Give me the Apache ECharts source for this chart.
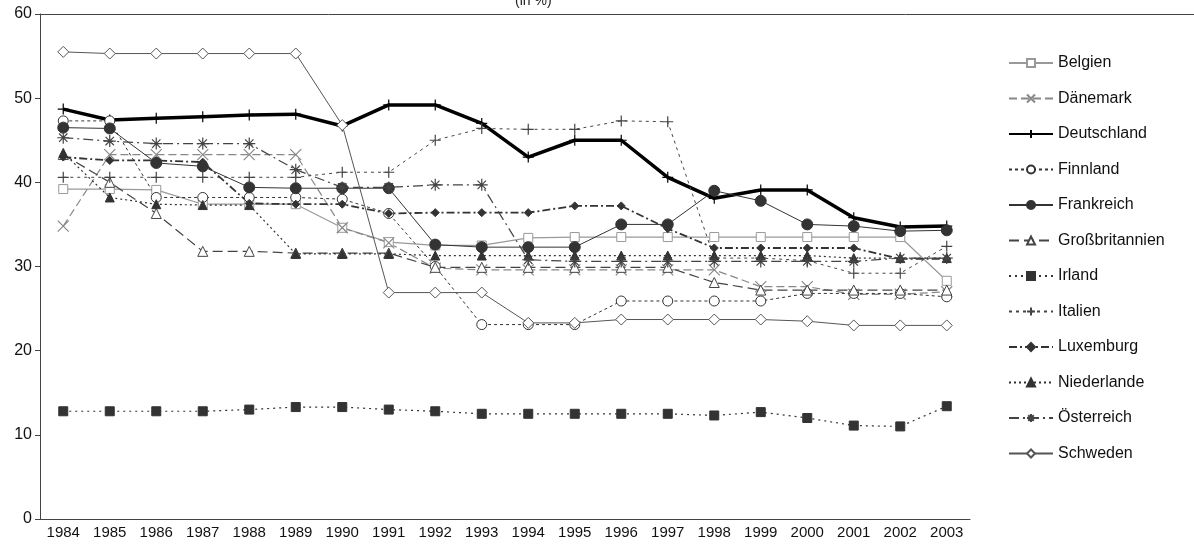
<!DOCTYPE html>
<html><head><meta charset="utf-8">
<script src="https://cdn.jsdelivr.net/npm/echarts@6/dist/echarts.min.js"></script>
<style>html,body{margin:0;background:#fff}#c{width:1194px;height:547px}</style>
</head><body><div id="c"></div>
<script>
const years = ['1984','1985','1986','1987','1988','1989','1990','1991','1992','1993','1994','1995','1996','1997','1998','1999','2000','2001','2002','2003'];
const belgien = [39.2,39.2,39.1,37.4,37.4,37.4,34.6,32.9,32.5,32.5,33.4,33.5,33.5,33.5,33.5,33.5,33.5,33.5,33.5,28.3];
const daenemark = [34.8,43.3,43.3,43.3,43.3,43.3,34.6,32.8,29.8,29.6,29.6,29.6,29.6,29.6,29.6,27.6,27.6,26.7,26.7,27.0];
const deutschland = [48.7,47.4,47.6,47.8,48.0,48.1,46.7,49.2,49.2,47.0,43.0,45.0,45.0,40.6,38.1,39.1,39.1,35.8,34.7,34.8];
const finnland = [47.3,47.3,38.2,38.2,38.2,38.2,38.0,36.3,30.0,23.1,23.1,23.1,25.9,25.9,25.9,25.9,26.8,26.8,26.8,26.4];
const frankreich = [46.5,46.4,42.3,41.9,39.4,39.3,39.3,39.3,32.6,32.3,32.3,32.3,35.0,35.0,39.0,37.8,35.0,34.8,34.2,34.3];
const grossbritannien = [43.3,40.0,36.3,31.8,31.8,31.6,31.6,31.6,29.9,29.9,29.9,29.9,29.9,29.9,28.1,27.2,27.2,27.2,27.2,27.2];
const irland = [12.8,12.8,12.8,12.8,13.0,13.3,13.3,13.0,12.8,12.5,12.5,12.5,12.5,12.5,12.3,12.7,12.0,11.1,11.0,13.4];
const italien = [40.6,40.6,40.6,40.6,40.6,40.6,41.2,41.2,45.0,46.4,46.3,46.3,47.3,47.2,31.0,31.0,30.7,29.2,29.2,32.4];
const luxemburg = [43.0,42.6,42.6,42.4,37.5,37.4,37.4,36.3,36.4,36.4,36.4,37.2,37.2,34.5,32.2,32.2,32.2,32.2,30.9,30.9];
const niederlande = [43.5,38.2,37.4,37.3,37.3,31.5,31.5,31.5,31.3,31.3,31.3,31.3,31.3,31.3,31.3,31.3,31.3,31.0,31.0,31.0];
const oesterreich = [45.3,44.9,44.6,44.6,44.6,41.5,39.4,39.4,39.7,39.7,30.8,30.6,30.6,30.6,30.6,30.6,30.6,30.6,31.0,31.0];
const schweden = [55.5,55.3,55.3,55.3,55.3,55.3,46.8,26.9,26.9,26.9,23.3,23.3,23.7,23.7,23.7,23.7,23.5,23.0,23.0,23.0];

function s(name, data, color, width, type, symbol, filled, size){
  return {name, type:'line', data, symbol, symbolSize:size||10,
    lineStyle:{color, width, type},
    itemStyle:{color: filled?color:'#fff', borderColor:color, borderWidth:1},
    emphasis:{disabled:true}};
}
const cross='path://M0,0L10,10M10,0L0,10';
const plus='path://M5,0V10M0,5H10';
const star='path://M5,0V10M0,5H10M1.5,1.5L8.5,8.5M8.5,1.5L1.5,8.5';
const series=[
  s('Belgien',belgien,'#999',1.2,'solid','rect',false,9),
  s('Dänemark',daenemark,'#888',1.2,[8,4],cross,false,11),
  s('Deutschland',deutschland,'#000',3.5,'solid',plus,false,11),
  s('Finnland',finnland,'#333',1,[3,3],'circle',false,10),
  s('Frankreich',frankreich,'#333',1,'solid','circle',true,11),
  s('Großbritannien',grossbritannien,'#444',1.2,[10,5],'triangle',false,10),
  s('Irland',irland,'#333',1.2,[2,4],'rect',true,9),
  s('Italien',italien,'#444',1,[3,4],plus,false,11),
  s('Luxemburg',luxemburg,'#333',1.8,[8,3,2,3],'diamond',true,8),
  s('Niederlande',niederlande,'#333',1.2,[2,3],'triangle',true,9),
  s('Österreich',oesterreich,'#444',1.2,[10,4,2,4],star,false,12),
  s('Schweden',schweden,'#555',1,'solid','diamond',false,11)
];
series.forEach(x=>{ if(x.symbol.startsWith('path://')) x.itemStyle={color:'none',borderColor:x.lineStyle.color,borderWidth:1.2}; });
const chart=echarts.init(document.getElementById('c'));
chart.setOption({
  animation:false,
  title:{text:'(in %)',left:510,top:-11,textStyle:{fontSize:14,fontWeight:'normal',color:'#222',fontFamily:'Liberation Sans'}},
  grid:{left:40,right:224,top:14,bottom:28},
  graphic:[{type:'line',shape:{x1:40,y1:14.5,x2:1194,y2:14.5},style:{stroke:'#444',lineWidth:1}}],
  legend:{orient:'vertical',left:1003,top:50,itemGap:19.5,itemWidth:44,itemHeight:10,
    textStyle:{fontSize:16,color:'#111',fontFamily:'Liberation Sans'},data:series.map(x=>x.name)},
  xAxis:{type:'category',data:years,boundaryGap:true,
    axisLine:{lineStyle:{color:'#444'}},axisTick:{lineStyle:{color:'#444'}},
    axisLabel:{color:'#111',fontSize:15,fontFamily:'Liberation Sans',interval:0,margin:6}},
  yAxis:{type:'value',min:0,max:60,interval:10,splitLine:{show:false},
    axisLine:{show:true,lineStyle:{color:'#444'}},axisTick:{show:true,lineStyle:{color:'#444'}},
    axisLabel:{color:'#111',fontSize:16,fontFamily:'Liberation Sans'}},
  series
});
</script></body></html>
